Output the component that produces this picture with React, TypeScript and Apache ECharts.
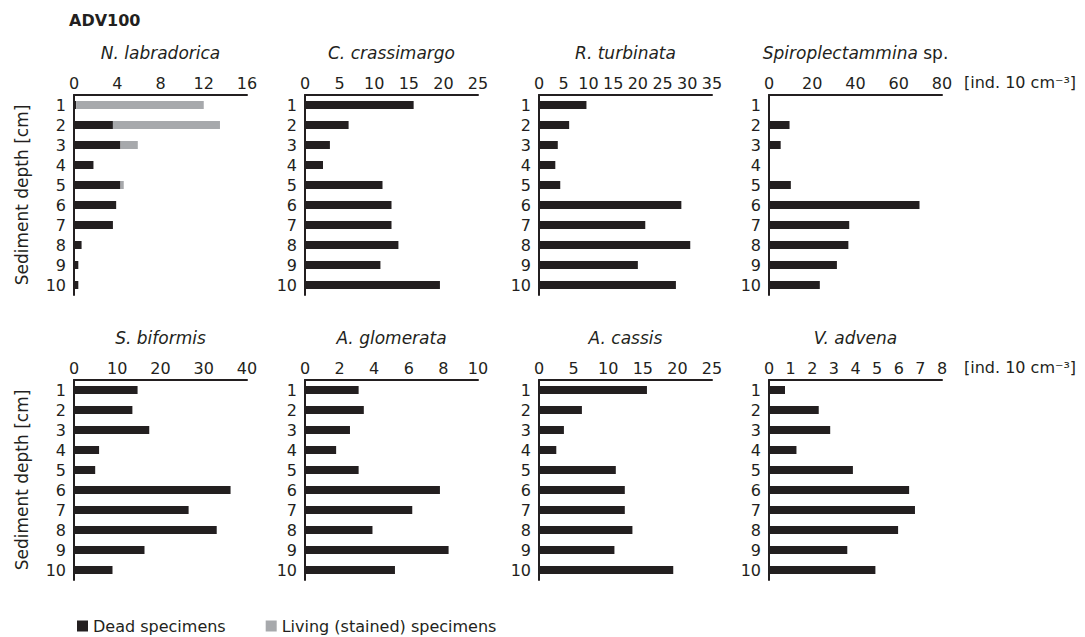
import React, { useEffect, useRef } from "react";
import * as echarts from "echarts";

// Sediment depth intervals (cm)
const depths = ["1", "2", "3", "4", "5", "6", "7", "8", "9", "10"];

// Abundances [ind. 10 cm^-3]
const nLabradoricaDead = [0.2, 3.6, 4.3, 1.8, 4.3, 3.9, 3.6, 0.7, 0.4, 0.4];
const nLabradoricaLiving = [11.8, 9.9, 1.6, 0, 0.3, 0, 0, 0, 0, 0];
const cCrassimargo = [15.7, 6.3, 3.6, 2.6, 11.2, 12.5, 12.5, 13.5, 10.9, 19.5];
const rTurbinata = [9.6, 6.1, 3.8, 3.3, 4.3, 28.8, 21.5, 30.6, 20.0, 27.7];
const spiroplectammina = [0, 9.5, 5.4, 0, 10.1, 69.6, 37.1, 36.7, 31.4, 23.5];
const sBiformis = [14.7, 13.5, 17.4, 5.8, 4.9, 36.2, 26.5, 33.0, 16.3, 8.9];
const aGlomerata = [3.1, 3.4, 2.6, 1.8, 3.1, 7.8, 6.2, 3.9, 8.3, 5.2];
const aCassis = [15.6, 6.2, 3.6, 2.5, 11.1, 12.4, 12.4, 13.5, 10.9, 19.4];
const vAdvena = [0.74, 2.3, 2.83, 1.27, 3.88, 6.48, 6.75, 5.97, 3.62, 4.92];

// Axis ranges per taxon
const axisMax = [16, 25, 35, 80, 40, 10, 25, 8];
const axisStep = [4, 5, 5, 20, 10, 2, 5, 1];
const taxonNames = [
  "{i|N. labradorica}",
  "{i|C. crassimargo}",
  "{i|R. turbinata}",
  "{i|Spiroplectammina} sp.",
  "{i|S. biformis}",
  "{i|A. glomerata}",
  "{i|A. cassis}",
  "{i|V. advena}",
];
const deadSeries = [
  nLabradoricaDead,
  cCrassimargo,
  rTurbinata,
  spiroplectammina,
  sBiformis,
  aGlomerata,
  aCassis,
  vAdvena,
];

const DEAD = "Dead specimens";
const LIVING = "Living (stained) specimens";
const INK = "#231f20";
const GREY = "#a7a9ac";
const FONT = "DejaVu Sans";

const colLeft = [74, 305, 539, 769];
const rowTop = [95, 380];
const PW = 173;
const PH = 200;

export default function App() {
  const ref = useRef<HTMLDivElement>(null);

  useEffect(() => {
    if (!ref.current) return;
    const chart = echarts.init(ref.current, undefined, { renderer: "svg" });

    const grids: any[] = [];
    const xAxes: any[] = [];
    const yAxes: any[] = [];
    const series: any[] = [];

    for (let i = 0; i < 8; i++) {
      const r = Math.floor(i / 4);
      const c = i % 4;
      grids.push({ left: colLeft[c], top: rowTop[r], width: PW, height: PH });
      xAxes.push({
        type: "value",
        gridIndex: i,
        position: "top",
        min: 0,
        max: axisMax[i],
        interval: axisStep[i],
        name: taxonNames[i],
        nameLocation: "middle",
        nameGap: 34,
        nameTextStyle: {
          color: INK,
          fontFamily: FONT,
          fontSize: 17,
          rich: {
            i: { fontStyle: "italic", fontFamily: FONT, fontSize: 17, color: INK },
          },
        },
        axisLine: { show: true, lineStyle: { color: INK, width: 2 } },
        axisTick: { show: false },
        splitLine: { show: false },
        axisLabel: {
          color: INK,
          fontFamily: FONT,
          fontSize: 16,
          margin: 4,
          showMinLabel: true,
          showMaxLabel: true,
        },
      });
      yAxes.push({
        type: "category",
        gridIndex: i,
        data: depths,
        inverse: true,
        name: c === 0 ? "Sediment depth [cm]" : "",
        nameLocation: "middle",
        nameRotate: 90,
        nameGap: 44,
        nameTextStyle: { color: INK, fontFamily: FONT, fontSize: 17 },
        axisLine: { show: true, lineStyle: { color: INK, width: 2 } },
        axisTick: { show: false },
        axisLabel: {
          color: INK,
          fontFamily: FONT,
          fontSize: 16,
          lineHeight: 16,
          margin: 8,
          interval: 0,
        },
      });
      series.push({
        type: "bar",
        name: DEAD,
        xAxisIndex: i,
        yAxisIndex: i,
        stack: "s" + i,
        data: deadSeries[i],
        barWidth: 8,
        itemStyle: { color: INK },
      });
      if (i === 0) {
        series.push({
          type: "bar",
          name: LIVING,
          xAxisIndex: 0,
          yAxisIndex: 0,
          stack: "s0",
          data: nLabradoricaLiving,
          barWidth: 8,
          itemStyle: { color: GREY },
        });
      }
    }

    const unitText = "[ind. 10 cm⁻³]";

    chart.setOption({
      animation: false,
      backgroundColor: "#ffffff",
      textStyle: { fontFamily: FONT },
      title: {
        text: "ADV100",
        left: 64,
        top: 7,
        textStyle: { fontFamily: FONT, fontSize: 16, fontWeight: "bold", color: INK },
      },
      legend: {
        left: 72,
        top: 613,
        icon: "rect",
        itemWidth: 11,
        itemHeight: 11,
        itemGap: 40,
        data: [DEAD, LIVING],
        textStyle: { color: INK, fontFamily: FONT, fontSize: 16 },
      },
      graphic: [
        {
          type: "text",
          left: 964,
          top: 74,
          style: { text: unitText, fill: INK, font: `16px "${FONT}"` },
        },
        {
          type: "text",
          left: 964,
          top: 359,
          style: { text: unitText, fill: INK, font: `16px "${FONT}"` },
        },
      ],
      grid: grids,
      xAxis: xAxes,
      yAxis: yAxes,
      series,
    });

    return () => chart.dispose();
  }, []);

  return (
    <div
      ref={ref}
      style={{ position: "absolute", left: 0, top: 0, width: 1085, height: 637 }}
    />
  );
}
